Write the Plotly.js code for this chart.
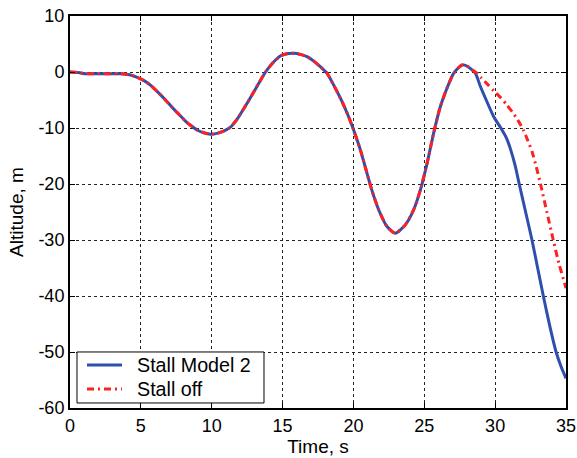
<!DOCTYPE html>
<html>
<head>
<meta charset="utf-8">
<script src="https://cdn.plot.ly/plotly-3.0.1.min.js"></script>
<style>html,body{margin:0;padding:0;background:#fff;}#chart{width:577px;height:458px;}</style>
</head>
<body>
<div id="chart"></div>
<script>
// Shared part of the trajectory (both runs identical up to ~28 s)
const timeCommon = [0, 0.6, 1.0, 2, 3, 3.6, 4.2, 4.7, 5.2, 5.7, 6.2, 6.7, 7.2, 7.7, 8.2, 8.6, 9.0, 9.5, 9.9, 10.3, 10.8, 11.3, 11.8, 12.3, 12.8, 13.3, 13.8, 14.3, 14.84, 15.3, 15.78, 16.25, 16.73, 17.2, 17.66, 18.14, 18.6, 19.2, 19.66, 19.97, 20.49, 20.96, 21.3, 21.78, 22.37, 22.96, 23.66, 24.25, 24.72, 25.19, 25.66, 26.13, 26.6, 27.07, 27.66, 28.0];
const altCommon  = [0, -0.1, -0.3, -0.3, -0.3, -0.3, -0.5, -0.9, -1.5, -2.4, -3.6, -4.9, -6.3, -7.6, -8.9, -9.7, -10.4, -10.9, -11.1, -11.0, -10.6, -9.9, -8.4, -6.4, -4.3, -2.1, 0, 1.6, 2.86, 3.25, 3.33, 3.15, 2.73, 1.95, 0.95, -0.24, -2.3, -5.3, -8.0, -10.05, -13.9, -18.1, -21.1, -24.6, -27.6, -28.8, -27.3, -24.6, -21.1, -16.4, -10.9, -6.2, -2.9, -0.24, 1.25, 1.07];

// Stall Model 2 continuation
const timeModel2 = [28.6, 28.96, 29.3, 29.9, 30.4, 30.8, 31.1, 31.4, 31.7, 32.15, 32.6, 33.0, 33.4, 33.85, 34.3, 34.65, 35];
const altModel2  = [-0.2, -2.6, -4.6, -8.0, -10.0, -11.8, -13.9, -16.6, -20, -25, -30, -35, -40, -45.3, -50, -52.6, -54.7];

// Stall off continuation
const timeOff = [28.6, 29.0, 29.5, 30.0, 30.4, 30.8, 31.2, 31.6, 32.0, 32.3, 32.6, 32.9, 33.2, 33.65, 34.1, 34.5, 34.9, 35];
const altOff  = [0.0, -1.0, -2.3, -3.6, -4.6, -5.8, -7.1, -8.6, -10.4, -12.2, -14.2, -16.9, -20, -25.0, -30, -34.2, -37.7, -38.6];

const seriesNames = ["Stall Model 2", "Stall off"];
const seriesColors = ["#2f4fae", "#ff2020"];
const xTicks = [0, 5, 10, 15, 20, 25, 30, 35];
const yTicks = [-60, -50, -40, -30, -20, -10, 0, 10];

const font = "Liberation Sans, Arial, sans-serif";
const redDash = "7px,4px,2px,4px";

const traces = [
  {
    x: timeCommon.concat(timeModel2),
    y: altCommon.concat(altModel2),
    name: seriesNames[0],
    mode: "lines",
    line: {color: seriesColors[0], width: 3, shape: "spline", smoothing: 0.6}
  },
  {
    x: timeCommon.concat(timeOff),
    y: altCommon.concat(altOff),
    name: seriesNames[1],
    mode: "lines",
    line: {color: seriesColors[1], width: 3, dash: redDash, shape: "spline", smoothing: 0.6}
  }
];

const axisCommon = {
  showline: true, linecolor: "#000", linewidth: 2, mirror: "ticks",
  ticks: "inside", ticklen: 5, tickcolor: "#000", tickwidth: 1,
  showgrid: true, gridcolor: "#222", gridwidth: 1, griddash: "3px,3px",
  zeroline: false,
  tickfont: {family: font, size: 18, color: "#000"}
};

// Legend box drawn in paper coordinates (MATLAB-style compact legend)
const lg = {x0: 0.0141, x1: 0.3911, y0: 0.0128, y1: 0.1429, lx0: 0.0343, lx1: 0.1048, tx: 0.131, rows: [0.1097, 0.0485]};
const shapes = [
  {type: "rect", xref: "paper", yref: "paper", x0: lg.x0, x1: lg.x1, y0: lg.y0, y1: lg.y1,
   line: {color: "#000", width: 1}, fillcolor: "#fff", layer: "above"},
  {type: "line", xref: "paper", yref: "paper", x0: lg.lx0, x1: lg.lx1, y0: lg.rows[0], y1: lg.rows[0],
   line: {color: seriesColors[0], width: 3}, layer: "above"},
  {type: "line", xref: "paper", yref: "paper", x0: lg.lx0, x1: lg.lx1, y0: lg.rows[1], y1: lg.rows[1],
   line: {color: seriesColors[1], width: 3, dash: redDash}, layer: "above"}
];
const annotations = seriesNames.map((n, i) => ({
  xref: "paper", yref: "paper", x: lg.tx, y: lg.rows[i], xanchor: "left", yanchor: "middle",
  text: n, showarrow: false, font: {family: font, size: 19.7, color: "#000"}
}));

const layout = {
  width: 577, height: 458,
  margin: {l: 70, r: 11, t: 16, b: 50},
  paper_bgcolor: "#fff", plot_bgcolor: "#fff",
  showlegend: false,
  shapes: shapes,
  annotations: annotations,
  xaxis: Object.assign({}, axisCommon, {
    range: [0, 35], tickvals: xTicks, ticktext: xTicks.map(String),
    title: {text: "Time, s", font: {family: font, size: 19, color: "#000"}, standoff: 2}
  }),
  yaxis: Object.assign({}, axisCommon, {
    range: [-60, 10], tickvals: yTicks, ticktext: yTicks.map(String),
    title: {text: "Altitude, m", font: {family: font, size: 19, color: "#000"}, standoff: 10}
  })
};

Plotly.newPlot("chart", traces, layout, {displayModeBar: false, staticPlot: true});
</script>
</body>
</html>
